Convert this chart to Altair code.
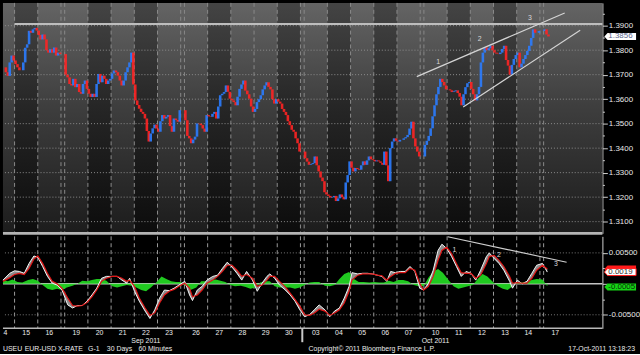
import altair as alt
import pandas as pd

FONT = "Liberation Sans Narrow, Liberation Sans, DejaVu Sans, sans-serif"

# ---------------- calendar (hourly session axis) ----------------
day_labels = ["14", "15", "16", "19", "20", "21", "22", "23", "26", "27", "28", "29", "30",
              "03", "04", "05", "06", "07", "10", "11", "12", "13", "14", "17"]
weekends_before = [0, 0, 0, 1, 1, 1, 1, 1, 2, 2, 2, 2, 2, 3, 3, 3, 3, 3, 4, 4, 4, 4, 4, 5]
dark_days = [1, 4, 6, 9, 12, 14, 16, 19, 21]
month_labels = ["Sep 2011", "Oct 2011"]
month_label_day = [6, 18]
WEEKEND_GAP_H = 3.84
CHART_START_H = 12          # chart starts 14 Sep 12:00
x_domain = [0, 620]

# ---------------- EUR-USD closes, 2-hour readings per day ----------------
sep14 = [1.3730, 1.3710, 1.3695, 1.3750, 1.3778, 1.3758]
sep15 = [1.3743, 1.3730, 1.3718, 1.3718, 1.3750, 1.3810, 1.3824, 1.3879, 1.3871, 1.3885, 1.3891, 1.3880]
sep16 = [1.3862, 1.3844, 1.3864, 1.3844, 1.3800, 1.3790, 1.3804, 1.3790, 1.3811, 1.3778, 1.3790, 1.3784]
sep19 = [1.3700, 1.3689, 1.3662, 1.3656, 1.3683, 1.3649, 1.3662, 1.3629, 1.3622, 1.3662, 1.3676, 1.3642]
sep20 = [1.3622, 1.3609, 1.3622, 1.3609, 1.3662, 1.3703, 1.3669, 1.3696, 1.3683, 1.3662, 1.3676, 1.3683]
sep21 = [1.3705, 1.3717, 1.3710, 1.3696, 1.3676, 1.3656, 1.3676, 1.3710, 1.3730, 1.3750, 1.3790, 1.3660]
sep22 = [1.3595, 1.3576, 1.3561, 1.3548, 1.3540, 1.3521, 1.3470, 1.3427, 1.3460, 1.3481, 1.3496, 1.3480]
sep23 = [1.3467, 1.3510, 1.3535, 1.3521, 1.3528, 1.3535, 1.3490, 1.3467, 1.3521, 1.3515, 1.3508, 1.3555]
sep26 = [1.3514, 1.3450, 1.3440, 1.3420, 1.3435, 1.3447, 1.3501, 1.3500, 1.3494, 1.3480, 1.3467, 1.3535]
sep27 = [1.3530, 1.3528, 1.3540, 1.3548, 1.3521, 1.3570, 1.3616, 1.3622, 1.3629, 1.3656, 1.3630, 1.3602]
sep28 = [1.3595, 1.3588, 1.3575, 1.3610, 1.3642, 1.3660, 1.3676, 1.3635, 1.3620, 1.3602, 1.3570, 1.3548]
sep29 = [1.3560, 1.3588, 1.3600, 1.3616, 1.3640, 1.3656, 1.3669, 1.3650, 1.3640, 1.3600, 1.3582, 1.3600]
sep30 = [1.3590, 1.3582, 1.3560, 1.3548, 1.3535, 1.3510, 1.3494, 1.3475, 1.3467, 1.3440, 1.3420, 1.3386]
oct03 = [1.3359, 1.3345, 1.3332, 1.3335, 1.3339, 1.3366, 1.3330, 1.3305, 1.3280, 1.3265, 1.3220, 1.3211]
oct04 = [1.3205, 1.3198, 1.3200, 1.3205, 1.3184, 1.3195, 1.3211, 1.3200, 1.3191, 1.3260, 1.3290, 1.3346]
oct05 = [1.3320, 1.3305, 1.3319, 1.3315, 1.3312, 1.3330, 1.3346, 1.3332, 1.3350, 1.3366, 1.3355, 1.3352]
oct06 = [1.3346, 1.3350, 1.3346, 1.3340, 1.3332, 1.3386, 1.3330, 1.3265, 1.3400, 1.3427, 1.3440, 1.3430]
oct07 = [1.3427, 1.3434, 1.3434, 1.3440, 1.3445, 1.3454, 1.3480, 1.3508, 1.3440, 1.3407, 1.3386, 1.3366]
oct10 = [1.3413, 1.3430, 1.3450, 1.3481, 1.3530, 1.3575, 1.3620, 1.3650, 1.3683, 1.3670, 1.3656, 1.3640]
oct11 = [1.3640, 1.3636, 1.3629, 1.3632, 1.3636, 1.3625, 1.3610, 1.3575, 1.3620, 1.3649, 1.3665, 1.3670]
oct12 = [1.3642, 1.3620, 1.3595, 1.3620, 1.3650, 1.3750, 1.3790, 1.3811, 1.3800, 1.3808, 1.3818, 1.3800]
oct13 = [1.3790, 1.3786, 1.3784, 1.3790, 1.3805, 1.3818, 1.3760, 1.3737, 1.3700, 1.3740, 1.3764, 1.3780]
oct14 = [1.3790, 1.3730, 1.3745, 1.3764, 1.3780, 1.3797, 1.3818, 1.3850, 1.3885, 1.3871, 1.3871, 1.3878]
oct17 = [1.3885, 1.3864, 1.3856]
closes_by_day = [sep14, sep15, sep16, sep19, sep20, sep21, sep22, sep23, sep26, sep27, sep28, sep29,
                 sep30, oct03, oct04, oct05, oct06, oct07, oct10, oct11, oct12, oct13, oct14, oct17]
first_reading_hour = [13] + [1] * 23

# ---------------- oscillator (MACD / signal / histogram) ----------------
macd_hour = [0, 7, 12, 17, 22, 27, 32, 36, 41, 46,
             51, 56, 61, 67, 72, 77, 82, 87, 92, 97,
             102, 107, 113, 118, 123, 128, 131, 136, 141, 147,
             152, 157, 162, 167, 172, 177, 182, 188, 193, 196,
             201, 206, 211, 217, 222, 227, 232, 237, 242, 247,
             252, 258, 263, 268, 273, 276, 281, 286, 292, 297,
             302, 307, 312, 317, 322, 327, 333, 338, 343, 348,
             353, 358, 361, 367, 372, 377, 382, 387, 392, 397,
             401, 406, 411, 416, 421, 426, 431, 435, 440, 445,
             450, 454, 459, 464, 469, 474, 479, 484, 489, 494,
             500, 503, 508, 513, 518, 524, 527, 532, 537, 542,
             547, 552, 558, 563]
macd_line = [0.0006, 0.0017, 0.0021, 0.0020, 0.0017, 0.0033, 0.0045, 0.0043, 0.0028, 0.0012,
             0.0001, -0.0002, -0.0010, -0.0034, -0.0039, -0.0035, -0.0035, -0.0028, -0.0018, -0.0007,
             0.0009, 0.0012, 0.0012, 0.0012, 0.0006, 0.0001, 0.0009, -0.0012, -0.0028, -0.0044,
             -0.0056, -0.0042, -0.0023, -0.0010, -0.0011, -0.0007, -0.0002, 0.0004, -0.0018, -0.0027,
             -0.0010, -0.0004, 0.0006, 0.0012, 0.0014, 0.0025, 0.0035, 0.0027, 0.0017, 0.0006,
             0.0020, 0.0006, -0.0012, 0.0001, 0.0012, 0.0016, 0.0009, -0.0002, -0.0010, -0.0018,
             -0.0028, -0.0042, -0.0053, -0.0050, -0.0042, -0.0034, -0.0042, -0.0053, -0.0044, -0.0039,
             -0.0023, -0.0004, 0.0018, 0.0016, 0.0017, 0.0017, 0.0016, 0.0014, 0.0012, 0.0004,
             0.0020, 0.0018, 0.0020, 0.0020, 0.0028, 0.0020, -0.0007, -0.0010, 0.0001, 0.0022,
             0.0054, 0.0064, 0.0057, 0.0044, 0.0028, 0.0012, 0.0020, 0.0017, 0.0006, 0.0022,
             0.0044, 0.0050, 0.0041, 0.0033, 0.0022, 0.0004, -0.0007, 0.0006, 0.0000, 0.0004,
             0.0017, 0.0030, 0.0033, 0.0019]
signal_line = [0.0004, 0.0010, 0.0015, 0.0017, 0.0015, 0.0025, 0.0040, 0.0045, 0.0033, 0.0017,
               0.0004, 0.0000, -0.0007, -0.0023, -0.0035, -0.0036, -0.0035, -0.0030, -0.0021, -0.0010,
               0.0004, 0.0009, 0.0012, 0.0012, 0.0009, 0.0004, 0.0006, -0.0004, -0.0023, -0.0039,
               -0.0051, -0.0047, -0.0031, -0.0018, -0.0012, -0.0009, -0.0004, 0.0001, -0.0007, -0.0021,
               -0.0018, -0.0010, 0.0001, 0.0006, 0.0012, 0.0020, 0.0030, 0.0030, 0.0022, 0.0012,
               0.0015, 0.0009, -0.0004, -0.0002, 0.0006, 0.0012, 0.0012, 0.0004, -0.0005, -0.0015,
               -0.0025, -0.0036, -0.0050, -0.0051, -0.0047, -0.0041, -0.0044, -0.0051, -0.0047, -0.0042,
               -0.0031, -0.0012, 0.0006, 0.0014, 0.0016, 0.0016, 0.0016, 0.0014, 0.0013, 0.0006,
               0.0012, 0.0017, 0.0018, 0.0018, 0.0025, 0.0022, 0.0001, -0.0010, -0.0004, 0.0012,
               0.0038, 0.0054, 0.0059, 0.0049, 0.0033, 0.0018, 0.0017, 0.0017, 0.0009, 0.0014,
               0.0033, 0.0044, 0.0046, 0.0038, 0.0028, 0.0012, 0.0001, 0.0002, 0.0001, 0.0001,
               0.0009, 0.0022, 0.0030, 0.0024]
hist_hour = [0, 5, 10, 15, 20, 26, 31, 36, 41, 46,
             51, 56, 61, 66, 72, 77, 82, 87, 92, 97,
             102, 107, 113, 118, 123, 128, 133, 138, 143, 148,
             153, 159, 164, 169, 174, 179, 184, 189, 194, 200,
             205, 210, 215, 220, 225, 230, 235, 240, 246, 251,
             256, 261, 266, 271, 276, 281, 286, 292, 297, 302,
             307, 312, 317, 322, 327, 333, 338, 343, 348, 353,
             358, 363, 368, 373, 379, 384, 389, 394, 399, 404,
             409, 414, 419, 425, 430, 435, 440, 445, 450, 455,
             460, 466, 471, 476, 481, 486, 491, 496, 501, 506,
             512, 517, 522, 527, 532, 537, 542, 547, 552, 558,
             563]
hist_value = [0.0006, 0.0004, 0.0007, 0.0003, 0.0002, 0.0006, 0.0008, 0.0005, -0.0002, -0.0008,
              -0.0010, -0.0008, -0.0010, -0.0006, -0.0003, 0.0000, 0.0005, 0.0004, 0.0006, 0.0008,
              0.0008, 0.0005, -0.0004, -0.0006, -0.0004, -0.0002, -0.0003, -0.0006, -0.0010, -0.0012,
              -0.0006, 0.0003, 0.0012, 0.0008, 0.0004, 0.0003, 0.0003, -0.0003, -0.0010, -0.0006,
              0.0004, 0.0004, 0.0006, 0.0007, 0.0005, 0.0003, -0.0002, -0.0004, -0.0003, -0.0005,
              -0.0008, -0.0006, 0.0002, 0.0004, 0.0004, -0.0004, -0.0006, -0.0006, -0.0006, -0.0008,
              -0.0006, -0.0002, 0.0002, 0.0003, 0.0003, -0.0003, -0.0004, -0.0002, 0.0008, 0.0016,
              0.0019, 0.0008, 0.0003, 0.0003, 0.0002, 0.0003, 0.0002, 0.0002, 0.0005, 0.0003,
              0.0006, 0.0006, 0.0004, -0.0002, -0.0004, -0.0004, 0.0010, 0.0020, 0.0024, 0.0018,
              0.0008, -0.0004, -0.0008, -0.0006, -0.0004, -0.0002, 0.0008, 0.0016, 0.0012, 0.0004,
              -0.0004, -0.0008, -0.0010, -0.0004, 0.0002, 0.0002, 0.0004, 0.0006, 0.0008, 0.0007,
              -0.0004]

# ---------------- annotations ----------------
resistance_level = 1.3907
resistance_from_hour = 12
channel_upper = [(428, 1.3692), (581, 1.3952)]
channel_lower = [(476, 1.3568), (597, 1.3881)]
wave_labels = ["1", "2", "3"]
wave_label_hour = [450, 493, 545]
wave_label_price = [1.3750, 1.3844, 1.3932]
osc_trend = [(460, 0.0076), (583, 0.0035)]
osc_label_hour = [467, 513, 572]
osc_label_value = [0.0054, 0.0046, 0.0032]

last_price = 1.3856
last_macd = 0.0019
last_signal = 0.0024
last_hist = -0.0005

price_domain = [1.3052, 1.3993]
osc_domain = [-0.00719, 0.00767]
price_ticks = [round(1.31 + 0.005 * i, 3) for i in range(18)]
price_grid = [round(1.31 + 0.01 * i, 2) for i in range(9)]
osc_ticks = [-0.005, -0.0025, 0.0, 0.0025, 0.005]
osc_grid = [-0.005, 0.005]

footer_texts = ["USEU", "EUR-USD X-RATE", "G-1", "30 Days", "60 Minutes",
                "Copyright\u00a9 2011 Bloomberg Finance L.P."]
footer_x = [0, 22, 86, 105, 137, 309]
timestamp = "17-Oct-2011 13:18:23"

# ---------------- derived tables ----------------
day_start = [24 * k + WEEKEND_GAP_H * w - CHART_START_H for k, w in enumerate(weekends_before)]

rows = []
prev = None
for k, vals in enumerate(closes_by_day):
    for j, v in enumerate(vals):
        t = day_start[k] + first_reading_hour[k] + 2 * j
        p = v if prev is None else prev
        rows.append({"t": t, "open": p, "close": v, "dir": "up" if v >= p else "down"})
        prev = v
bars = pd.DataFrame(rows)

bounds = set()
for k in range(len(day_start)):
    bounds.add(round(day_start[k], 2))
    if k < len(day_start) - 1:
        bounds.add(round(day_start[k] + 24, 2))
bounds = sorted(b for b in bounds if x_domain[0] < b < x_domain[1])
day_lines = pd.DataFrame({"t": bounds})

dark_rects = pd.DataFrame({"t0": [day_start[i] for i in dark_days],
                           "t1": [day_start[i] + 24 for i in dark_days],
                           "p0": price_domain[0], "p1": price_domain[1]})
light_rect = pd.DataFrame({"t0": [x_domain[0]], "t1": [x_domain[1]],
                           "p0": [price_domain[0]], "p1": [price_domain[1]]})

osc = pd.DataFrame({"t": macd_hour, "macd": macd_line, "signal": signal_line})
hist = pd.DataFrame({"t": hist_hour, "h": hist_value, "zero": 0.0})

# ---------------- scales / axes / helpers ----------------
xs = alt.Scale(domain=x_domain, nice=False, zero=False)
ys_up = alt.Scale(domain=price_domain, nice=False, zero=False)
ys_lo = alt.Scale(domain=osc_domain, nice=False, zero=False)

upper_axis = alt.Axis(
    orient="right", values=price_ticks, title=None, grid=False,
    labelExpr="round(datum.value*1000) % 10 == 0 ? format(datum.value, '.4f') : ''",
    tickSize={"condition": {"test": "round(datum.value*1000) % 10 != 0", "value": 2}, "value": 5},
    tickColor="#d0d0d0", domainColor="#d0d0d0", labelColor="#e8e8e8",
    labelFont=FONT, labelFontSize=8, labelPadding=1, labelOverlap=False, labelFlush=False)

lower_axis = alt.Axis(
    orient="right", values=osc_ticks, title=None, grid=False,
    labelExpr="abs(datum.value) > 0.004 ? replace(format(datum.value, '.5f'), '\u2212', '-') : ''",
    tickSize={"condition": {"test": "abs(datum.value) > 0.004 || abs(datum.value) < 0.0001",
                            "value": 5}, "value": 2},
    tickColor="#d0d0d0", domainColor="#d0d0d0", labelColor="#e8e8e8",
    labelFont=FONT, labelFontSize=8, labelPadding=1, labelOverlap=False, labelFlush=False)


def X(f):
    return alt.X(f, type="quantitative", scale=xs, axis=None)


def YU(f):
    return alt.Y(f, type="quantitative", scale=ys_up, axis=upper_axis)


def YL(f):
    return alt.Y(f, type="quantitative", scale=ys_lo, axis=lower_axis)


def grad(c0, c1, c2):
    return {"gradient": "linear", "x1": 0, "x2": 0, "y1": 0, "y2": 1,
            "stops": [{"offset": 0, "color": c0}, {"offset": 0.45, "color": c1},
                      {"offset": 1, "color": c2}]}


TAG_PATH = "M-1,0 L-0.8,-0.22 L1,-0.22 L1,0.22 L-0.8,0.22 Z"
SMALL = 7

# ---------------- upper panel ----------------
u_bg = alt.Chart(light_rect).mark_rect(color=grad("#646464", "#3e3e3e", "#1c1c1c")).encode(
    x=X("t0"), x2="t1", y=YU("p1"), y2="p0")
u_dark = alt.Chart(dark_rects).mark_rect(color=grad("#444444", "#262626", "#0c0c0c")).encode(
    x=X("t0"), x2="t1", y=YU("p1"), y2="p0")
u_grid = alt.Chart(pd.DataFrame({"p": price_grid})).mark_rule(
    color="#8e8e8e", strokeDash=[1, 2], strokeWidth=1).encode(y=YU("p"))
u_days = alt.Chart(day_lines).mark_rule(color="#8a8a8a", strokeDash=[4, 3], strokeWidth=1).encode(x=X("t"))
u_res = alt.Chart(pd.DataFrame({"t0": [resistance_from_hour], "t1": [x_domain[1]],
                                "p": [resistance_level]})).mark_rule(
    color="#bdbdbd", strokeWidth=2).encode(x=X("t0"), x2="t1", y=YU("p"))
u_bars = alt.Chart(bars).mark_rule(strokeWidth=2.6, opacity=0.9).encode(
    x=X("t"), y=YU("open"), y2="close",
    color=alt.Color("dir:N", scale=alt.Scale(domain=["up", "down"], range=["#2b7cff", "#ff2424"]),
                    legend=None))
chan = pd.DataFrame({"t1": [channel_upper[0][0], channel_lower[0][0]],
                     "p1": [channel_upper[0][1], channel_lower[0][1]],
                     "t2": [channel_upper[1][0], channel_lower[1][0]],
                     "p2": [channel_upper[1][1], channel_lower[1][1]]})
u_chan = alt.Chart(chan).mark_rule(color="#d4d4d4", strokeWidth=1.2).encode(
    x=X("t1"), y=YU("p1"), x2="t2", y2="p2")
u_wave = alt.Chart(pd.DataFrame({"t": wave_label_hour, "p": wave_label_price, "s": wave_labels})).mark_text(
    font=FONT, fontSize=SMALL, color="#d8d8d8").encode(x=X("t"), y=YU("p"), text="s")
u_sep = alt.Chart(pd.DataFrame({"p": [price_domain[0]]})).mark_rule(
    color="#b4b4b4", strokeWidth=3).encode(y=YU("p"))
tag_up = pd.DataFrame({"v": [last_price], "s": [f"{last_price:.4f}"]})
u_tag = alt.Chart(tag_up).mark_point(shape=TAG_PATH, size=1024, filled=True, color="#ffffff",
                                     opacity=1).encode(x=alt.value(624), y=YU("v"))
u_tag_t = alt.Chart(tag_up).mark_text(font=FONT, fontSize=8, align="left", color="#5a6890").encode(
    x=alt.value(612), y=YU("v"), text="s")

upper = alt.layer(u_bg, u_dark, u_grid, u_days, u_res, u_bars, u_chan, u_wave, u_sep,
                  u_tag, u_tag_t).properties(width=606, height=233)

# ---------------- lower panel ----------------
l_days = alt.Chart(day_lines).mark_rule(color="#9c9c9c", strokeDash=[4, 3], strokeWidth=1).encode(x=X("t"))
l_grid = alt.Chart(pd.DataFrame({"v": osc_grid})).mark_rule(
    color="#7a7a7a", strokeDash=[1, 2]).encode(y=YL("v"))
l_zero = alt.Chart(pd.DataFrame({"v": [0.0]})).mark_rule(color="#c4c4c4", strokeWidth=1.5).encode(y=YL("v"))
l_hist = alt.Chart(hist).mark_area(color="#22d422", opacity=0.95).encode(x=X("t"), y=YL("h"), y2="zero")
l_band = alt.Chart(osc).mark_area(color="#8c8c8c").encode(x=X("t"), y=YL("macd"), y2="signal")
l_macd = alt.Chart(osc).mark_line(color="#f4f4f4", strokeWidth=1).encode(x=X("t"), y=YL("macd"))
l_sig = alt.Chart(osc).mark_line(color="#e01414", strokeWidth=1.2).encode(x=X("t"), y=YL("signal"))
l_trend = alt.Chart(pd.DataFrame({"t1": [osc_trend[0][0]], "v1": [osc_trend[0][1]],
                                  "t2": [osc_trend[1][0]], "v2": [osc_trend[1][1]]})).mark_rule(
    color="#cfcfcf", strokeWidth=1.1).encode(x=X("t1"), y=YL("v1"), x2="t2", y2="v2")
l_wave = alt.Chart(pd.DataFrame({"t": osc_label_hour, "v": osc_label_value, "s": wave_labels})).mark_text(
    font=FONT, fontSize=SMALL, color="#d8d8d8").encode(x=X("t"), y=YL("v"), text="s")
l_bottom = alt.Chart(pd.DataFrame({"v": [osc_domain[0]]})).mark_rule(
    color="#b8b8b8", strokeWidth=1.5).encode(y=YL("v"))

tags = pd.DataFrame({"v": [last_signal, last_macd, last_hist],
                     "s": [f"{last_signal:.4f}", f"{last_macd:.4f}", f"{last_hist:.4f}"]})
l_tag_sig = alt.Chart(tags.iloc[[0]]).mark_point(shape=TAG_PATH, size=1024, filled=True,
                                                 color="#ff1a1a", opacity=1).encode(
    x=alt.value(624), y=YL("v"))
l_tag_macd = alt.Chart(tags.iloc[[1]]).mark_point(shape=TAG_PATH, size=1024, filled=True,
                                                  fill="#ffffff", stroke="#ff1a1a", strokeWidth=1,
                                                  opacity=1).encode(x=alt.value(624), y=YL("v"))
l_tag_macd_t = alt.Chart(tags.iloc[[1]]).mark_text(font=FONT, fontSize=8, align="left",
                                                   color="#303030").encode(
    x=alt.value(612), y=YL("v"), text="s")
l_tag_h = alt.Chart(tags.iloc[[2]]).mark_point(shape=TAG_PATH, size=1024, filled=True,
                                               color="#14d414", opacity=1).encode(
    x=alt.value(624), y=YL("v"))
l_tag_h_t = alt.Chart(tags.iloc[[2]]).mark_text(font=FONT, fontSize=8, align="left",
                                                color="#0a2a0a").encode(
    x=alt.value(612), y=YL("v"), text="s")

centers = pd.DataFrame({"t": [day_start[k] + 12 for k in range(1, len(day_labels))],
                        "s": day_labels[1:]})
l_daylab = alt.Chart(centers).mark_text(font=FONT, fontSize=SMALL, baseline="top", color="#ececec").encode(
    x=X("t"), y=alt.value(94), text="s")
l_daylab0 = alt.Chart(pd.DataFrame({"t": [x_domain[0]], "s": [day_labels[0][-1:]]})).mark_text(
    font=FONT, fontSize=SMALL, baseline="top", align="left", dx=0.5, color="#ececec").encode(
    x=X("t"), y=alt.value(94), text="s")
months = pd.DataFrame({"t": [day_start[i] + 12 for i in month_label_day], "s": month_labels})
l_month = alt.Chart(months).mark_text(font=FONT, fontSize=SMALL, baseline="top", color="#ececec").encode(
    x=X("t"), y=alt.value(102), text="s")
sep_t = (day_start[12] + 24 + day_start[13]) / 2
l_mtick = alt.Chart(pd.DataFrame({"t": [sep_t]})).mark_rule(color="#c8c8c8", strokeWidth=2).encode(
    x=X("t"), y=alt.value(93), y2=alt.value(107))

footer_layers = []
for txt, px in zip(footer_texts, footer_x):
    footer_layers.append(
        alt.Chart(pd.DataFrame({"s": [txt]})).mark_text(
            font=FONT, fontSize=SMALL, baseline="top", align="left", color="#ececec").encode(
            x=alt.value(px), y=alt.value(110), text="s"))
footer_layers.append(
    alt.Chart(pd.DataFrame({"s": [timestamp]})).mark_text(
        font=FONT, fontSize=SMALL, baseline="top", align="right", color="#ececec").encode(
        x=alt.value(639), y=alt.value(110), text="s"))

lower = alt.layer(l_days, l_grid, l_zero, l_hist, l_band, l_macd, l_sig, l_trend, l_wave, l_bottom,
                  l_tag_sig, l_tag_macd, l_tag_macd_t, l_tag_h, l_tag_h_t,
                  l_daylab, l_daylab0, l_month, l_mtick, *footer_layers).properties(width=606, height=93)

chart = alt.vconcat(upper, lower, spacing=3, bounds="flush").configure(
    background="#000000", padding=0).configure_view(stroke=None)

chart.save("out.html", embed_options={"renderer": "svg", "actions": False})
